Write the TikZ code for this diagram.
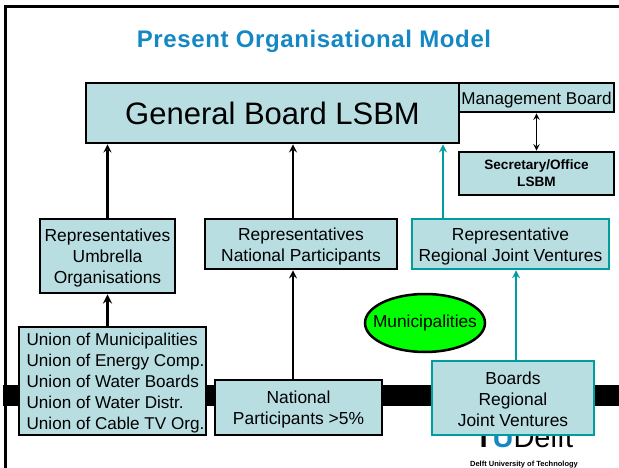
\documentclass[tikz,border=0pt]{standalone}
\usepackage{fontspec}
\setmainfont{Liberation Sans}
\newfontfamily\titlefont[LetterSpace=2.6]{Liberation Sans}
\usetikzlibrary{shapes.geometric}
\definecolor{boxfill}{HTML}{B8DEE2}
\definecolor{tealline}{HTML}{009C9E}
\definecolor{titleblue}{HTML}{1588C4}
\newcommand{\lowertext}{\rule{0pt}{17pt}}
\newcommand{\unionindent}{\hspace*{6pt}}
\tikzset{
	boardbox/.style={draw=black,line width=2.8pt,fill=boxfill,inner sep=0pt,align=center,font=\fontsize{17.4}{21}\selectfont},
	tealbox/.style={boardbox,draw=tealline,line width=2.5pt},
	link/.style={->,line width=2.5pt},
}
\begin{document}
\begin{tikzpicture}[
		>=stealth,
		x=1pt,
		y=-1pt,
		line join=miter
		]
		\useasboundingbox (0,0) rectangle (619,468);
		% frame and bar of the slide
		\draw[line width=2.5pt] (5.5,468) -- (5.5,6.5) -- (619,6.5);
		\fill[black] (3,385) rectangle (619,405.5);
		\node[anchor=base] (title) at (314,48) {\titlefont\fontsize{24}{28}\selectfont\bfseries\color{titleblue}Present Organisational Model};
		\node[anchor=base] (logo) at (524,447) {\fontsize{29}{30}\selectfont\textbf{T\color{titleblue}U}Delft};
		\node (university) at (524,464.5) {\fontsize{7.5}{8}\selectfont\bfseries Delft University of Technology};
		% boxes
		\node[boardbox,minimum width=373,minimum height=60,font=\fontsize{31}{36}\selectfont] (board) at (272.5,113) {General Board LSBM};
		\node[boardbox,minimum width=155,minimum height=29,font=\fontsize{17.1}{21}\selectfont] (management) at (536.5,97.5) {\lowertext Management Board};
		\node[boardbox,minimum width=155,minimum height=43,font=\fontsize{13.6}{17}\selectfont\bfseries] (secretary) at (536.5,173.5) {Secretary/Office\\LSBM};
		\node[boardbox,minimum width=135,minimum height=74] (umbrella) at (107.5,256) {\lowertext Representatives\\Umbrella\\Organisations};
		\node[boardbox,minimum width=192,minimum height=50] (natrep) at (301,244) {\lowertext Representatives\\National Participants};
		\node[tealbox,minimum width=197,minimum height=50] (regrep) at (510.5,244) {\lowertext Representative\\Regional Joint Ventures};
		\node[boardbox,minimum width=187,minimum height=108,align=left,font=\fontsize{17.1}{21}\selectfont] (unions) at (112.5,381) {\lowertext\unionindent Union of Municipalities\\\unionindent Union of Energy Comp.\\\unionindent Union of Water Boards\\\unionindent Union of Water Distr.\\\unionindent Union of Cable TV Org.};
		\node[boardbox,minimum width=167,minimum height=55] (natpart) at (298.5,407.5) {\lowertext National\\Participants >5\%};
		\node[tealbox,minimum width=162,minimum height=74] (boards) at (513,398) {\rule{0pt}{15pt}Boards\\Regional\\Joint Ventures};
		\node[ellipse,draw=black,line width=2.5pt,fill=green,inner sep=-9.5pt,minimum width=120,minimum height=58,font=\fontsize{17.3}{20}\selectfont] (municipalities) at (425,323) {Municipalities};
		% arrows
		\coordinate (natx) at (293,0);
		\coordinate (regx) at (443,0);
		\coordinate (boardsx) at (516,0);
		\begin{scope}[link]
		\draw (umbrella.north) -- (umbrella.north |- board.south);
		\draw[line width=3pt] (umbrella.south |- unions.north) -- (umbrella.south);
		\draw (natx |- natrep.north) -- (natx |- board.south);
		\draw (natx |- natpart.north) -- (natx |- natrep.south);
		\draw[tealline] (regx |- regrep.north) -- (regx |- board.south);
		\draw[tealline] (boardsx |- boards.north) -- (boardsx |- regrep.south);
		\draw[<->,line width=1.8pt] (management.south) -- (secretary.north);
		\end{scope}
		\end{tikzpicture}
\end{document}
